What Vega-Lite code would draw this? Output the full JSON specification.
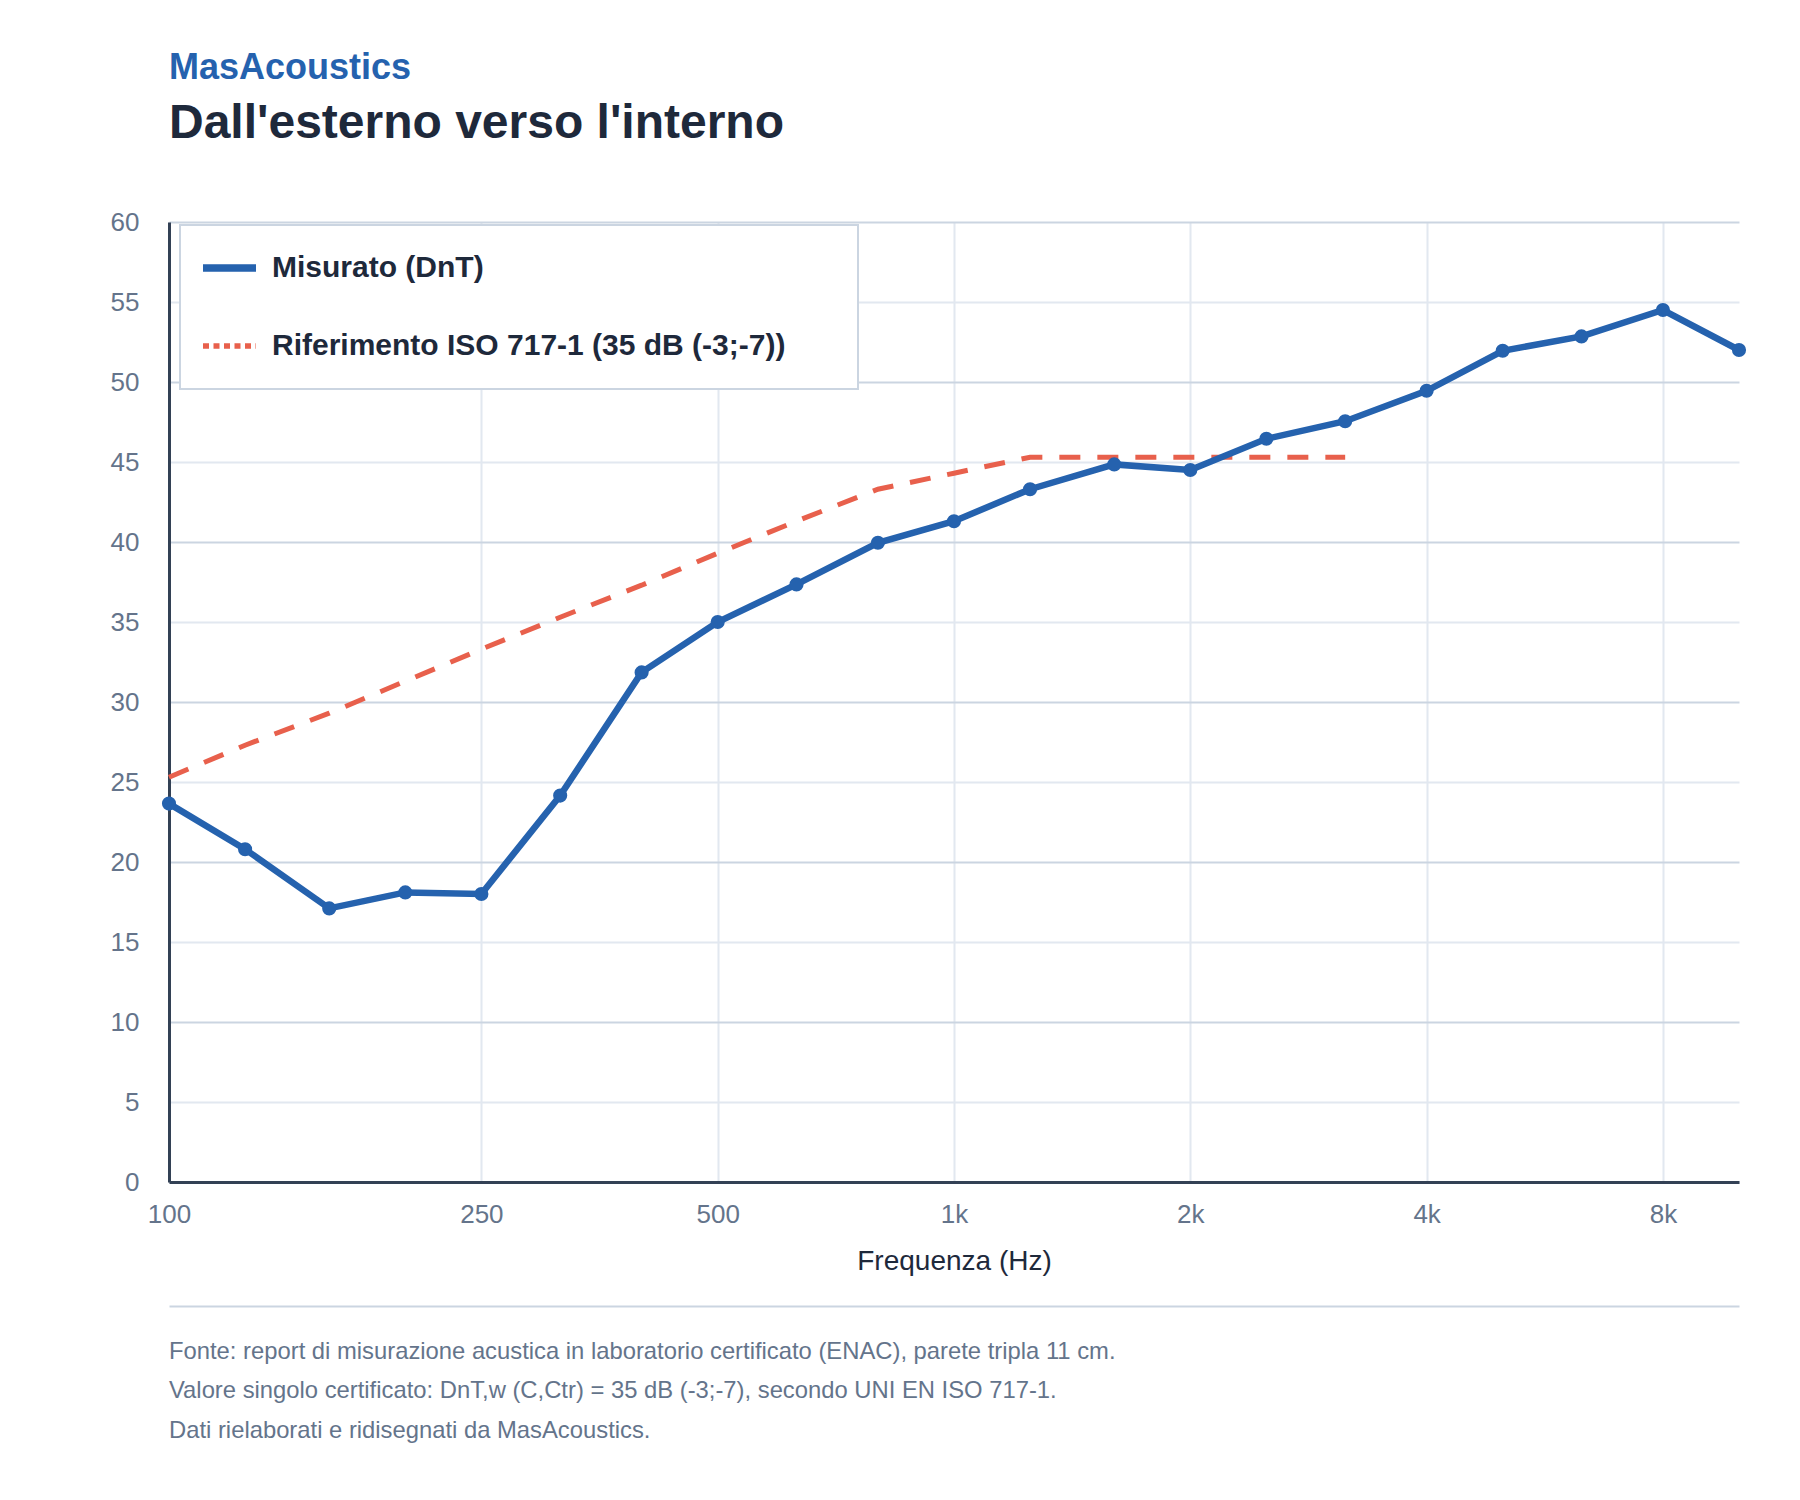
{
  "$schema": "https://vega.github.io/schema/vega-lite/v6.json",
  "background": "white",
  "padding": {"left": 110, "top": 49, "right": 0, "bottom": 0},
  "autosize": {"type": "pad"},
  "config": {"font": "Liberation Sans", "view": {"stroke": null}},
  "title": {
    "text": "MasAcoustics",
    "subtitle": "Dall'esterno verso l'interno",
    "anchor": "start",
    "frame": "group",
    "font": "Liberation Sans",
    "fontSize": 36,
    "fontWeight": "bold",
    "color": "#2562ae",
    "subtitleFont": "Liberation Sans",
    "subtitleFontSize": 48,
    "subtitleFontWeight": "bold",
    "subtitleColor": "#1e293b",
    "subtitlePadding": 13,
    "offset": 60.5
  },
  "bounds": "flush",
  "spacing": 124,
  "vconcat": [
    {
      "width": 1570,
      "height": 960,
      "data": {
        "values": [
          {"freq": 100, "series": "Misurato (DnT)", "value": 23.65},
          {"freq": 125, "series": "Misurato (DnT)", "value": 20.8},
          {"freq": 160, "series": "Misurato (DnT)", "value": 17.1},
          {"freq": 200, "series": "Misurato (DnT)", "value": 18.1},
          {"freq": 250, "series": "Misurato (DnT)", "value": 18.0},
          {"freq": 315, "series": "Misurato (DnT)", "value": 24.15},
          {"freq": 400, "series": "Misurato (DnT)", "value": 31.85},
          {"freq": 500, "series": "Misurato (DnT)", "value": 35.0},
          {"freq": 630, "series": "Misurato (DnT)", "value": 37.35},
          {"freq": 800, "series": "Misurato (DnT)", "value": 39.95},
          {"freq": 1000, "series": "Misurato (DnT)", "value": 41.3},
          {"freq": 1250, "series": "Misurato (DnT)", "value": 43.3},
          {"freq": 1600, "series": "Misurato (DnT)", "value": 44.85},
          {"freq": 2000, "series": "Misurato (DnT)", "value": 44.5},
          {"freq": 2500, "series": "Misurato (DnT)", "value": 46.45},
          {"freq": 3150, "series": "Misurato (DnT)", "value": 47.55},
          {"freq": 4000, "series": "Misurato (DnT)", "value": 49.45},
          {"freq": 5000, "series": "Misurato (DnT)", "value": 51.95},
          {"freq": 6300, "series": "Misurato (DnT)", "value": 52.85},
          {"freq": 8000, "series": "Misurato (DnT)", "value": 54.5},
          {"freq": 10000, "series": "Misurato (DnT)", "value": 52.0},
          {"freq": 100, "series": "Riferimento ISO 717-1 (35 dB (-3;-7))", "value": 25.3},
          {"freq": 125, "series": "Riferimento ISO 717-1 (35 dB (-3;-7))", "value": 27.3},
          {"freq": 160, "series": "Riferimento ISO 717-1 (35 dB (-3;-7))", "value": 29.3},
          {"freq": 200, "series": "Riferimento ISO 717-1 (35 dB (-3;-7))", "value": 31.3},
          {"freq": 250, "series": "Riferimento ISO 717-1 (35 dB (-3;-7))", "value": 33.3},
          {"freq": 315, "series": "Riferimento ISO 717-1 (35 dB (-3;-7))", "value": 35.3},
          {"freq": 400, "series": "Riferimento ISO 717-1 (35 dB (-3;-7))", "value": 37.3},
          {"freq": 500, "series": "Riferimento ISO 717-1 (35 dB (-3;-7))", "value": 39.3},
          {"freq": 630, "series": "Riferimento ISO 717-1 (35 dB (-3;-7))", "value": 41.3},
          {"freq": 800, "series": "Riferimento ISO 717-1 (35 dB (-3;-7))", "value": 43.3},
          {"freq": 1000, "series": "Riferimento ISO 717-1 (35 dB (-3;-7))", "value": 44.3},
          {"freq": 1250, "series": "Riferimento ISO 717-1 (35 dB (-3;-7))", "value": 45.3},
          {"freq": 1600, "series": "Riferimento ISO 717-1 (35 dB (-3;-7))", "value": 45.3},
          {"freq": 2000, "series": "Riferimento ISO 717-1 (35 dB (-3;-7))", "value": 45.3},
          {"freq": 2500, "series": "Riferimento ISO 717-1 (35 dB (-3;-7))", "value": 45.3},
          {"freq": 3150, "series": "Riferimento ISO 717-1 (35 dB (-3;-7))", "value": 45.3}
        ]
      },
      "encoding": {
        "x": {
          "field": "freq",
          "type": "quantitative",
          "scale": {"type": "log", "domain": [100, 10000], "nice": false},
          "axis": {
            "values": [100, 250, 500, 1000, 2000, 4000, 8000],
            "labelExpr": "datum.value >= 1000 ? (datum.value / 1000) + 'k' : '' + datum.value",
            "labelFlush": false,
            "labelFont": "Liberation Sans",
            "labelFontSize": 26,
            "labelColor": "#64748b",
            "labelPadding": 19,
            "ticks": false,
            "grid": true,
            "gridColor": "#e2e8f0",
            "gridWidth": 2,
            "domain": true,
            "domainColor": "#334155",
            "domainWidth": 3,
            "title": "Frequenza (Hz)",
            "titleFont": "Liberation Sans",
            "titleFontSize": 28,
            "titleFontWeight": "normal",
            "titleColor": "#1e293b",
            "titlePadding": 20
          }
        },
        "y": {
          "field": "value",
          "type": "quantitative",
          "scale": {"domain": [0, 60], "nice": false},
          "axis": {
            "values": [0, 5, 10, 15, 20, 25, 30, 35, 40, 45, 50, 55, 60],
            "labelFont": "Liberation Sans",
            "labelFontSize": 26,
            "labelColor": "#64748b",
            "labelPadding": 30,
            "ticks": false,
            "grid": true,
            "gridColor": {"condition": {"test": "datum.value % 10 === 0", "value": "#cbd5e1"}, "value": "#e2e8f0"},
            "gridWidth": 2,
            "domain": true,
            "domainColor": "#334155",
            "domainWidth": 3,
            "title": null
          }
        }
      },
      "layer": [
        {
          "transform": [{"filter": "datum.series !== 'Misurato (DnT)'"}],
          "mark": {"type": "line", "strokeWidth": 5, "strokeDash": [21, 17]},
          "encoding": {
            "color": {
              "field": "series",
              "type": "nominal",
              "scale": {
                "domain": ["Misurato (DnT)", "Riferimento ISO 717-1 (35 dB (-3;-7))"],
                "range": ["#2562ae", "#e8604c"]
              },
              "legend": {
                "title": null,
                "orient": "none",
                "legendX": 11,
                "legendY": 3,
                "direction": "vertical",
                "symbolType": "stroke",
                "symbolSize": 2809,
                "symbolStrokeWidth": 7,
                "symbolOffset": 6.5,
                "labelFont": "Liberation Sans",
                "labelFontSize": 30,
                "labelFontWeight": "bold",
                "labelColor": "#1e293b",
                "labelOffset": 27.5,
                "labelLimit": 0,
                "labelExpr": "datum.label + '\u2800\u2800'",
                "rowPadding": 48,
                "padding": 28,
                "fillColor": "white",
                "strokeColor": "#cbd5e1",
                "encode": {
                  "legend": {"update": {"strokeWidth": {"value": 2}}},
                  "symbols": {
                    "update": {
                      "stroke": {"signal": "datum.value === 'Misurato (DnT)' ? '#2562ae' : '#e8604c'"},
                      "strokeDash": {"signal": "datum.value === 'Misurato (DnT)' ? [1, 0] : [6, 4.5]"},
                      "strokeWidth": {"signal": "datum.value === 'Misurato (DnT)' ? 7.5 : 5.5"}
                    }
                  }
                }
              }
            }
          }
        },
        {
          "transform": [{"filter": "datum.series === 'Misurato (DnT)'"}],
          "mark": {"type": "line", "strokeWidth": 6.5},
          "encoding": {
            "color": {"field": "series", "type": "nominal"}
          }
        },
        {
          "transform": [{"filter": "datum.series === 'Misurato (DnT)'"}],
          "mark": {"type": "point", "filled": true, "size": 200, "opacity": 1, "color": "#2562ae"}
        }
      ]
    },
    {
      "width": 1570,
      "height": 150,
      "data": {
        "values": [
          {"line": 1, "text": "Fonte: report di misurazione acustica in laboratorio certificato (ENAC), parete tripla 11 cm."},
          {"line": 2, "text": "Valore singolo certificato: DnT,w (C,Ctr) = 35 dB (-3;-7), secondo UNI EN ISO 717-1."},
          {"line": 3, "text": "Dati rielaborati e ridisegnati da MasAcoustics."}
        ]
      },
      "mark": {"type": "text", "align": "left", "baseline": "alphabetic", "font": "Liberation Sans", "fontSize": 23.8, "color": "#64748b"},
      "encoding": {
        "x": {
          "datum": 0,
          "type": "quantitative",
          "scale": {"domain": [0, 1]},
          "axis": {"orient": "top", "domain": true, "domainColor": "#cbd5e1", "domainWidth": 2, "ticks": false, "labels": false, "grid": false, "title": null}
        },
        "y": {
          "field": "line",
          "type": "quantitative",
          "scale": {"domain": [-0.34, 3.46], "reverse": true},
          "axis": null
        },
        "text": {"field": "text"}
      }
    }
  ]
}
